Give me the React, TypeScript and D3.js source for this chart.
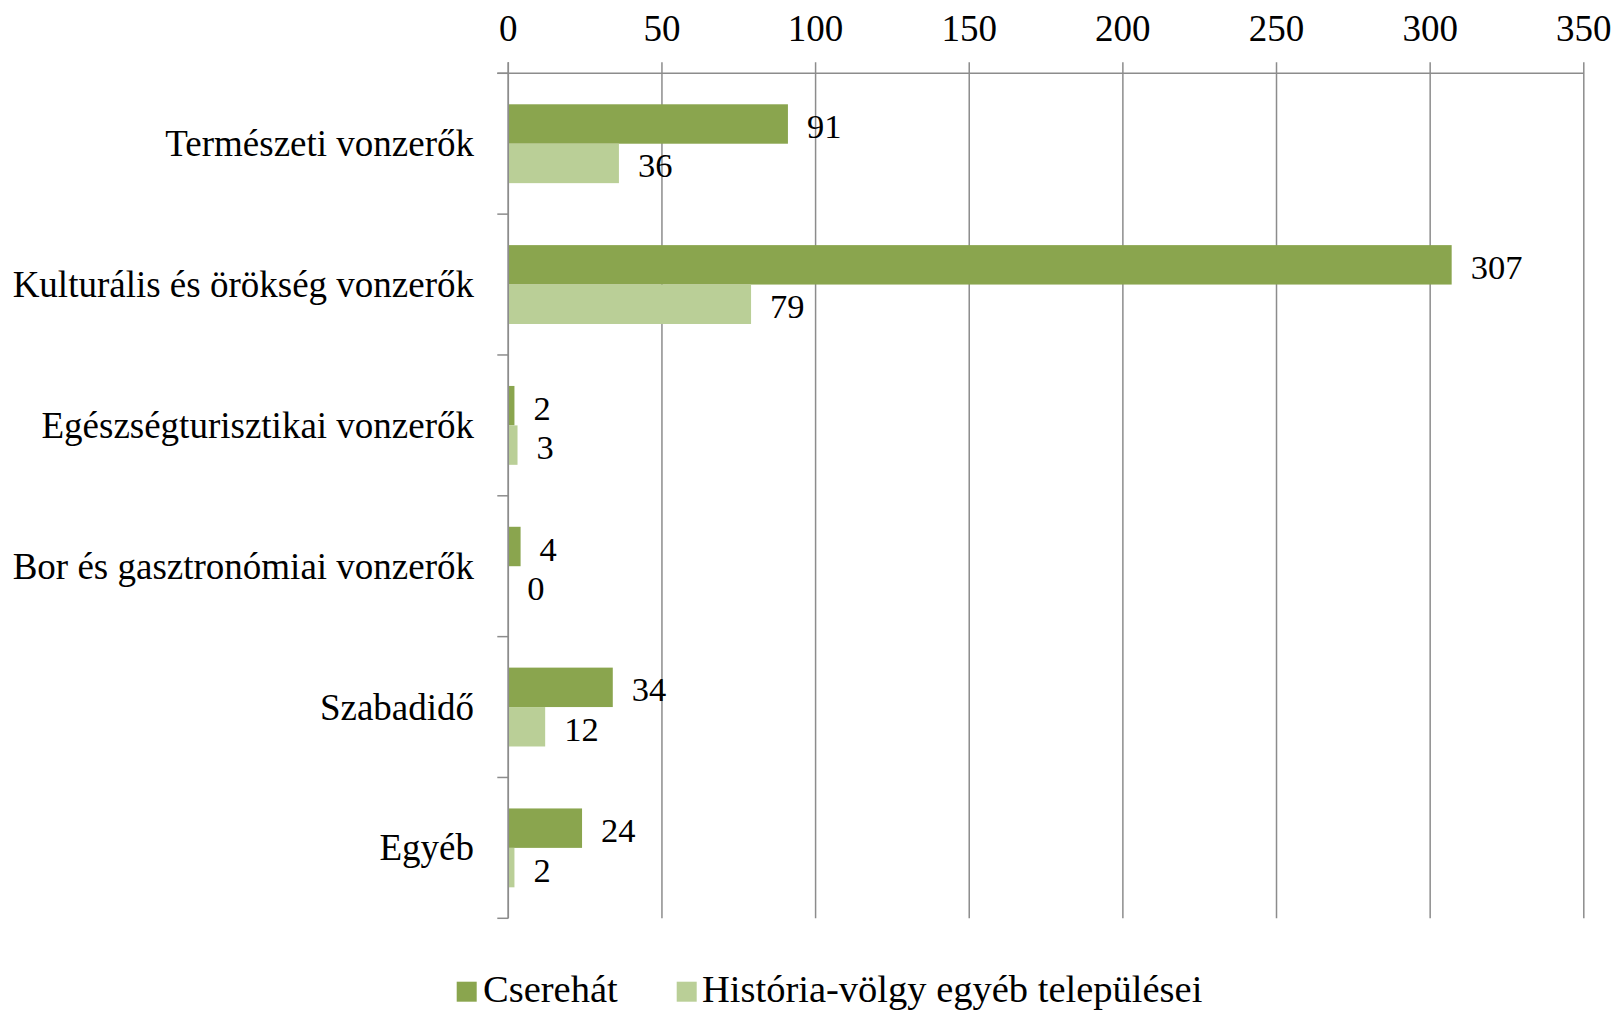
import React from "react";
import * as d3 from "d3";

const categories = [
  "Természeti vonzerők",
  "Kulturális és örökség vonzerők",
  "Egészségturisztikai vonzerők",
  "Bor és gasztronómiai vonzerők",
  "Szabadidő",
  "Egyéb",
];
const seriesNames = ["Cserehát", "História-völgy egyéb települései"];
const cserehat = [91, 307, 2, 4, 34, 24];
const historia = [36, 79, 3, 0, 12, 2];
const xTicks = [0, 50, 100, 150, 200, 250, 300, 350];
const colors = ["#8aa54e", "#bacf97"];

const W = 1617;
const H = 1012;
const FONT = '"Liberation Serif", "Times New Roman", Tinos, serif';

export default function App() {
  const left = 508.3;
  const right = 1583.8;
  const top = 73.3;
  const bottom = 918.3;

  const x = d3.scaleLinear().domain([0, 350]).range([left, right]);
  const y = d3.scaleBand<string>().domain(categories).range([top, bottom]).paddingInner(0.44).paddingOuter(0.22);
  const inner = d3.scaleBand<number>().domain([0, 1]).range([0, y.bandwidth()]);
  const step = y.step();
  const series = [cserehat, historia];

  return (
    <svg width={W} height={H} style={{ position: "absolute", left: 0, top: 0, background: "#fff", fontFamily: FONT }}>
      {xTicks.map((t) => (
        <line key={"g" + t} x1={x(t)} x2={x(t)} y1={top - 11} y2={bottom} stroke="#8c8c8c" strokeWidth={1.5} />
      ))}
      <line x1={left - 11} x2={right} y1={top} y2={top} stroke="#8c8c8c" strokeWidth={1.5} />
      {xTicks.map((t) => (
        <text key={"t" + t} x={x(t)} y={41} textAnchor="middle" fontSize={37} fill="#000">
          {t}
        </text>
      ))}
      {d3.range(categories.length + 1).map((i) => (
        <line key={"yt" + i} x1={left - 11} x2={left} y1={top + i * step} y2={top + i * step} stroke="#8c8c8c" strokeWidth={1.5} />
      ))}
      {categories.map((c, ci) => (
        <g key={c}>
          {series.map((s, si) => {
            const y0 = (y(c) as number) + (inner(si) as number);
            const h = inner.bandwidth();
            return (
              <g key={si}>
                <rect x={x(0)} y={y0} width={x(s[ci]) - x(0)} height={h} fill={colors[si]} />
                <text x={x(s[ci]) + 19} y={y0 + h / 2 + 2} dominantBaseline="central" fontSize={34.5} fill="#000">
                  {s[ci]}
                </text>
              </g>
            );
          })}
          <text x={474} y={(y(c) as number) + y.bandwidth() / 2} dominantBaseline="central" textAnchor="end" fontSize={37} fill="#000">
            {c}
          </text>
        </g>
      ))}
      <line x1={left} x2={left} y1={top - 11} y2={bottom} stroke="#8c8c8c" strokeWidth={1.5} />
      <rect x={456.7} y={981.7} width={20} height={20} fill={colors[0]} />
      <text x={483} y={1002} fontSize={38.5} fill="#000">{seriesNames[0]}</text>
      <rect x={676.7} y={981.7} width={20} height={20} fill={colors[1]} />
      <text x={702} y={1002} fontSize={38.5} fill="#000">{seriesNames[1]}</text>
    </svg>
  );
}
